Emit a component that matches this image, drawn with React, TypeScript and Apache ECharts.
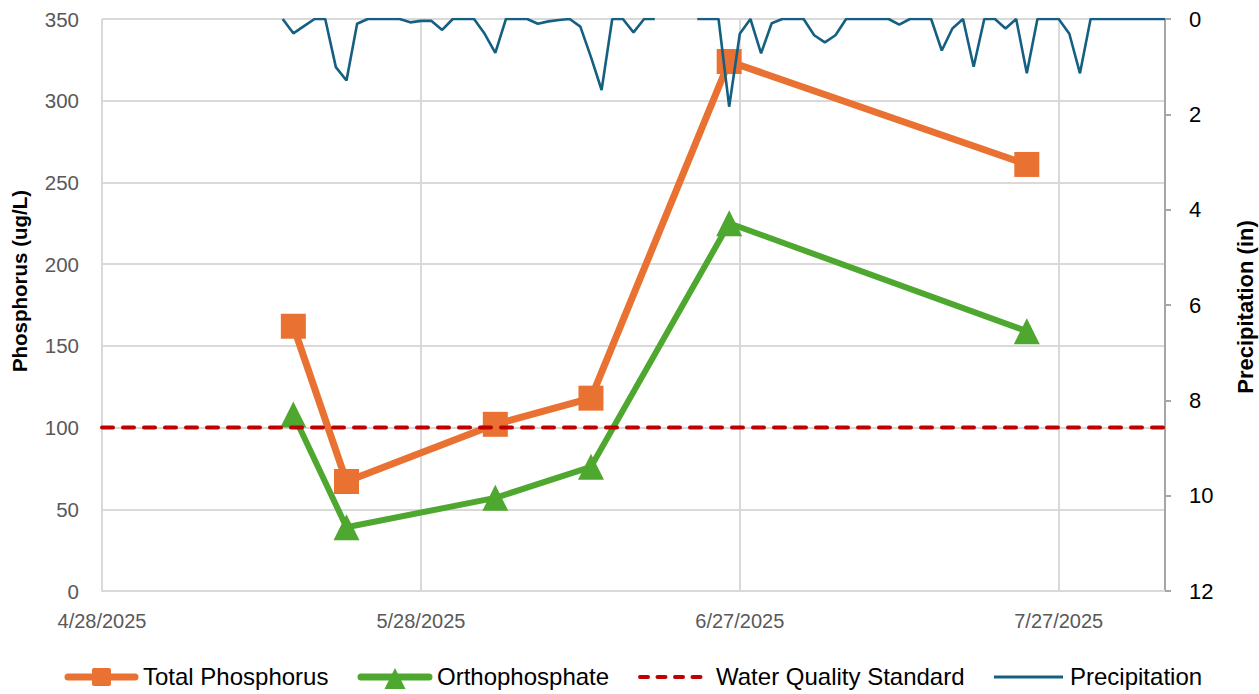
import React, { useEffect, useRef } from "react";
import * as echarts from "echarts";

const START_DATE = "2025-04-28";
const END_DATE = "2025-08-06";
const X_TICK_INTERVAL_DAYS = 30;

const sampleDates = ["2025-05-16", "2025-05-21", "2025-06-04", "2025-06-13", "2025-06-26", "2025-07-24"];
const totalPhosphorus = [162, 67, 102, 118, 324, 261];
const orthophosphate = [108, 39, 57, 76, 225, 159];
const waterQualityStandard = 100;

const precipStartDate = "2025-05-15";
const precipitation: (number | null)[] = [
  0, 0.3, 0.15, 0, 0, 1.01, 1.29, 0.1,
  0, 0, 0, 0, 0.07, 0.04, 0.04, 0.23,
  0, 0, 0, 0.31, 0.71, 0, 0, 0,
  0.1, 0.05, 0.02, 0, 0.16, 0.8, 1.49, 0,
  0, 0.28, 0, 0, null, null, null, 0,
  0, 0, 1.84, 0.31, 0, 0.72, 0.09, 0,
  0, 0, 0.34, 0.49, 0.34, 0, 0, 0,
  0, 0, 0.12, 0, 0, 0, 0.66, 0.2,
  0, 1.0, 0, 0, 0.2, 0, 1.14, 0,
  0, 0, 0.31, 1.14, 0, 0, 0, 0,
  0, 0, 0, 0,
];

const leftAxisTitle = "Phosphorus (ug/L)";
const rightAxisTitle = "Precipitation (in)";
const legendNames = ["Total Phosphorus", "Orthophosphate", "Water Quality Standard", "Precipitation"];

const C_TP = "#E97132";
const C_OP = "#4EA72E";
const C_WQS = "#C00000";
const C_PR = "#156082";

const DAY = 86400000;
function toUTC(s: string) {
  const [y, m, d] = s.split("-").map(Number);
  return Date.UTC(y, m - 1, d);
}
function dayOffset(s: string) {
  return Math.round((toUTC(s) - toUTC(START_DATE)) / DAY);
}
function dateLabel(offset: number) {
  const dt = new Date(toUTC(START_DATE) + offset * DAY);
  return `${dt.getUTCMonth() + 1}/${dt.getUTCDate()}/${dt.getUTCFullYear()}`;
}

const FONT = "'Liberation Sans', Arial, sans-serif";

function legendText(text: string, x: number) {
  return {
    type: "text",
    x,
    y: 676,
    style: {
      text,
      fontFamily: FONT,
      fontSize: 24,
      fill: "#000000",
      align: "left",
      textAlign: "left",
      verticalAlign: "middle",
      textVerticalAlign: "middle",
    },
  };
}

export default function App() {
  const ref = useRef<HTMLDivElement>(null);
  useEffect(() => {
    if (!ref.current) return;
    const chart = echarts.init(ref.current, undefined, { renderer: "svg" });
    const xMax = dayOffset(END_DATE);
    const pStart = dayOffset(precipStartDate);
    const option: any = {
      animation: false,
      backgroundColor: "#ffffff",
      grid: { left: 102, right: 94, top: 19, bottom: 103, containLabel: false },
      graphic: [
        {
          type: "text",
          x: 19,
          y: 281,
          rotation: Math.PI / 2,
          style: {
            text: leftAxisTitle,
            fontFamily: FONT,
            fontSize: 20.5,
            fontWeight: "bold",
            fill: "#000000",
            align: "center",
            textAlign: "center",
            verticalAlign: "middle",
            textVerticalAlign: "middle",
          },
        },
        {
          type: "text",
          x: 1245,
          y: 307,
          rotation: Math.PI / 2,
          style: {
            text: rightAxisTitle,
            fontFamily: FONT,
            fontSize: 22,
            fontWeight: "bold",
            fill: "#000000",
            align: "center",
            textAlign: "center",
            verticalAlign: "middle",
            textVerticalAlign: "middle",
          },
        },
        // legend: Total Phosphorus
        {
          type: "line",
          shape: { x1: 68, y1: 677, x2: 135, y2: 677 },
          style: { stroke: C_TP, lineWidth: 7, lineCap: "round" },
        },
        { type: "rect", shape: { x: 92, y: 668, width: 19, height: 18, r: 2 }, style: { fill: C_TP } },
        legendText(legendNames[0], 143),
        // legend: Orthophosphate
        {
          type: "line",
          shape: { x1: 361, y1: 677, x2: 429, y2: 677 },
          style: { stroke: C_OP, lineWidth: 7, lineCap: "round" },
        },
        {
          type: "polygon",
          shape: { points: [[395, 668], [384.5, 689], [405.5, 689]] },
          style: { fill: C_OP },
        },
        legendText(legendNames[1], 437),
        // legend: Water Quality Standard
        {
          type: "line",
          shape: { x1: 640, y1: 677, x2: 708, y2: 677 },
          style: { stroke: C_WQS, lineWidth: 4, lineCap: "round", lineDash: [8, 9.5] },
        },
        legendText(legendNames[2], 716),
        // legend: Precipitation
        {
          type: "line",
          shape: { x1: 994, y1: 677, x2: 1063, y2: 677 },
          style: { stroke: C_PR, lineWidth: 3 },
        },
        legendText(legendNames[3], 1070),
      ],
      xAxis: {
        type: "value",
        min: 0,
        max: xMax,
        interval: X_TICK_INTERVAL_DAYS,
        axisLine: { show: true, lineStyle: { color: "#d9d9d9", width: 2 } },
        axisTick: { show: false },
        splitLine: { show: true, lineStyle: { color: "#d9d9d9", width: 2 } },
        axisLabel: {
          showMaxLabel: false,
          margin: 20,
          fontFamily: FONT,
          fontSize: 20,
          color: "#595959",
          formatter: (v: number) => dateLabel(v),
        },
      },
      yAxis: [
        {
          type: "value",
          min: 0,
          max: 350,
          interval: 50,
          axisLine: { show: false },
          axisTick: { show: false },
          splitLine: { show: true, lineStyle: { color: "#d9d9d9", width: 2 } },
          axisLabel: { margin: 23, fontFamily: FONT, fontSize: 20.5, color: "#595959" },
        },
        {
          type: "value",
          min: 0,
          max: 12,
          interval: 2,
          inverse: true,
          position: "right",
          axisLine: { show: true, lineStyle: { color: "#a6a6a6", width: 2 } },
          axisTick: { show: true, inside: false, length: 6, lineStyle: { color: "#a6a6a6", width: 2 } },
          splitLine: { show: false },
          axisLabel: { margin: 24, fontFamily: FONT, fontSize: 22, color: "#000000" },
        },
      ],
      series: [
        {
          name: legendNames[0],
          type: "line",
          z: 2,
          data: sampleDates.map((d, i) => [dayOffset(d), totalPhosphorus[i]]),
          lineStyle: { color: C_TP, width: 7 },
          itemStyle: { color: C_TP },
          symbol: "rect",
          symbolSize: 25,
        },
        {
          name: legendNames[1],
          type: "line",
          z: 3,
          data: sampleDates.map((d, i) => [dayOffset(d), orthophosphate[i]]),
          lineStyle: { color: C_OP, width: 6 },
          itemStyle: { color: C_OP },
          symbol: "triangle",
          symbolSize: 26,
        },
        {
          name: legendNames[2],
          type: "line",
          z: 4,
          data: [[0, waterQualityStandard], [xMax, waterQualityStandard]],
          lineStyle: { color: C_WQS, width: 4, type: [11, 10], cap: "round" },
          itemStyle: { color: C_WQS },
          symbol: "none",
        },
        {
          name: legendNames[3],
          type: "line",
          z: 5,
          yAxisIndex: 1,
          connectNulls: false,
          data: precipitation.map((v, i) => [pStart + i, v]),
          lineStyle: { color: C_PR, width: 2.6 },
          itemStyle: { color: C_PR },
          symbol: "none",
        },
      ],
    };
    chart.setOption(option);
    return () => chart.dispose();
  }, []);
  return (
    <div
      ref={ref}
      style={{ position: "absolute", left: 0, top: 0, width: 1259, height: 694, background: "#fff" }}
    />
  );
}
